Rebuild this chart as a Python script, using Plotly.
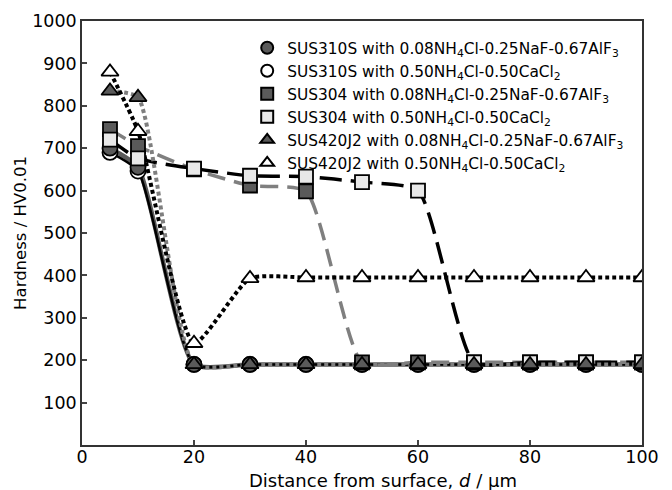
import plotly.graph_objects as go

# ---- data ----
depth = [5, 10, 20, 30, 40, 50, 60, 70, 80, 90, 100]

sus310s_alf3 = [700, 655, 190, 190, 190, 190, 190, 190, 190, 190, 190]
sus310s_cacl2 = [690, 646, 190, 190, 190, 190, 190, 190, 190, 190, 190]
sus304_alf3 = [745, 705, 650, 612, 598, 195, 195, 195, 195, 195, 195]
sus304_cacl2 = [720, 676, 652, 635, 633, 620, 600, 195, 195, 195, 195]
sus420_alf3 = [835, 820, 190, 190, 190, 190, 190, 190, 190, 190, 190]
sus420_cacl2 = [880, 740, 240, 393, 395, 395, 395, 395, 395, 395, 395]

names = [
    "SUS310S with 0.08NH<sub>4</sub>Cl-0.25NaF-0.67AlF<sub>3</sub>",
    "SUS310S with 0.50NH<sub>4</sub>Cl-0.50CaCl<sub>2</sub>",
    "SUS304 with 0.08NH<sub>4</sub>Cl-0.25NaF-0.67AlF<sub>3</sub>",
    "SUS304 with 0.50NH<sub>4</sub>Cl-0.50CaCl<sub>2</sub>",
    "SUS420J2 with 0.08NH<sub>4</sub>Cl-0.25NaF-0.67AlF<sub>3</sub>",
    "SUS420J2 with 0.50NH<sub>4</sub>Cl-0.50CaCl<sub>2</sub>",
]
x_title = "Distance from surface, <i>d</i> / μm"
y_title = "Hardness / HV0.01"
x_ticks = [0, 20, 40, 60, 80, 100]
y_ticks = [100, 200, 300, 400, 500, 600, 700, 800, 900, 1000]

series = [sus310s_alf3, sus310s_cacl2, sus304_alf3, sus304_cacl2, sus420_alf3, sus420_cacl2]

DARK = "#5a5a5a"
GRAY = "#7f7f7f"
styles = [
    dict(color=DARK, width=4.5, dash="solid", symbol="circle", fill=DARK, size=15),
    dict(color="black", width=2.5, dash="solid", symbol="circle", fill="white", size=15),
    dict(color=GRAY, width=3.5, dash="18px,9px", symbol="square", fill=DARK, size=14),
    dict(color="black", width=3.5, dash="22px,9px", symbol="square", fill="#e8e8e8", size=14),
    dict(color=GRAY, width=4, dash="4px,3px", symbol="triangle-up", fill=DARK, size=15),
    dict(color="black", width=4, dash="4px,3px", symbol="triangle-up", fill="white", size=15),
]

FONT = "DejaVu Sans, Arial, sans-serif"

fig = go.Figure()

# lines first (below all markers)
for ys, st in zip(series, styles):
    fig.add_trace(go.Scatter(
        x=depth, y=ys, mode="lines", showlegend=False, hoverinfo="skip",
        line=dict(color=st["color"], width=st["width"], dash=st["dash"],
                  shape="spline", smoothing=0.55),
    ))

# markers (draw order chosen so overlaps look like the reference)
draw_order = [1, 0, 2, 3, 4, 5]
for i in draw_order:
    st = styles[i]
    fig.add_trace(go.Scatter(
        x=depth, y=series[i], mode="markers", name=names[i], legendrank=i + 1,
        marker=dict(symbol=st["symbol"], size=st["size"], color=st["fill"],
                    line=dict(color="black", width=1.8)),
    ))

fig.update_layout(
    width=672, height=490,
    margin=dict(l=82, r=30, t=21, b=45, autoexpand=False),
    paper_bgcolor="white", plot_bgcolor="white",
    font=dict(family=FONT, size=16, color="black"),
    legend=dict(x=0.295, y=0.976, xanchor="left", yanchor="top",
                bgcolor="rgba(0,0,0,0)", font=dict(size=15.4),
                itemsizing="constant", tracegroupgap=0),
    annotations=[dict(text=x_title, xref="paper", yref="paper", x=0.5375, y=-0.083,
                      xanchor="center", yanchor="middle", showarrow=False,
                      font=dict(size=18))],
)
fig.update_xaxes(
    range=[0, 100], tickvals=x_ticks, ticks="inside", ticklen=5, tickwidth=1.5,
    showline=True, linecolor="#333", linewidth=1.5, mirror=True, showgrid=False,
    zeroline=False, automargin=False, ticklabelstandoff=-5,
    tickfont=dict(size=17.5),
)
fig.update_yaxes(
    range=[0, 1000], tickvals=y_ticks, ticks="inside", ticklen=5, tickwidth=1.5,
    showline=True, linecolor="#333", linewidth=1.5, mirror=True, showgrid=False,
    zeroline=False, automargin=False, ticklabelstandoff=0,
    title=dict(text=y_title, standoff=1, font=dict(size=16.5)),
    tickfont=dict(size=17.5),
)

fig.write_html("out.html", post_script="document.body.style.margin='0px';",
               config={"displayModeBar": False})
